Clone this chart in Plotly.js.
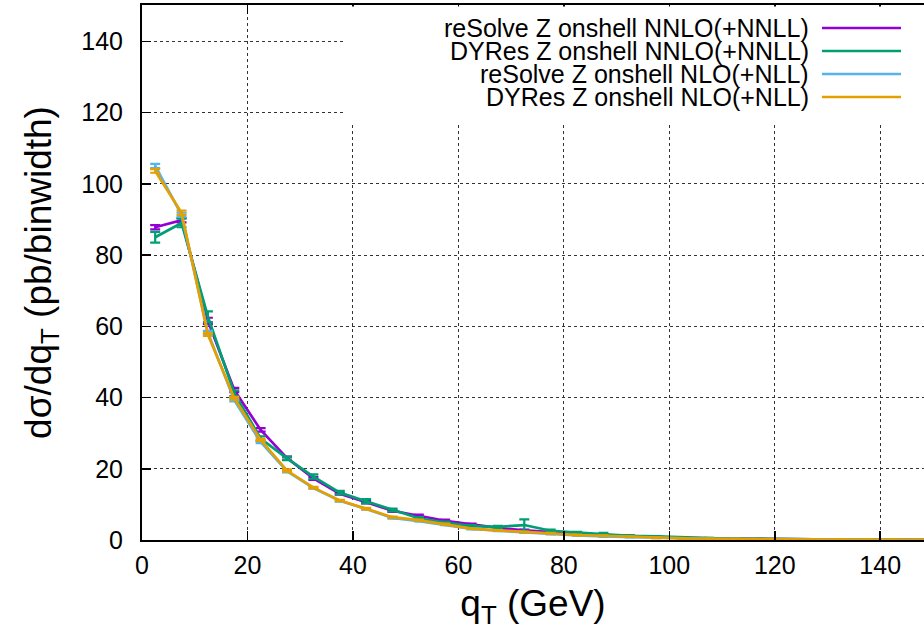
<!DOCTYPE html>
<html>
<head>
<meta charset="utf-8">
<script src="https://cdn.plot.ly/plotly-3.0.1.min.js"></script>
<style>html,body{margin:0;padding:0;background:#fff;}#chart{width:924px;height:630px;}</style>
</head>
<body>
<div id="chart"></div>
<script>
// bin centres (GeV)
const qT = [2.5,7.5,12.5,17.5,22.5,27.5,32.5,37.5,42.5,47.5,52.5,57.5,62.5,67.5,72.5,77.5,82.5,87.5,92.5,97.5,102.5,107.5,112.5,117.5,122.5,127.5,132.5,137.5,142.5,147.5];

const seriesNames = [
  "reSolve Z onshell NNLO(+NNLL)",
  "DYRes Z onshell NNLO(+NNLL)",
  "reSolve Z onshell NLO(+NLL)",
  "DYRes Z onshell NLO(+NLL)"
];

const resolveNNLO = [87.8,89.8,61.5,42.1,30.9,23.0,17.3,13.0,10.6,8.2,6.8,5.4,4.4,3.4,2.7,2.1,1.7,1.4,1.1,0.8,0.6,0.45,0.35,0.25,0.2,0.15,0.12,0.1,0.08,0.06];
const resolveNNLOerr = [0.6,0.6,0.9,0.6,0.5,0.4,0.4,0.3,0.3,0.3,0.3,0.3,0.2,0.2,0.2,0.2,0.1,0.1,0.1,0.1,0.1,0.1,0.05,0.05,0.05,0.05,0.05,0.05,0.05,0.05];

const dyresNNLO = [85.0,89.0,62.7,41.2,28.5,22.9,17.8,13.3,10.9,8.4,6.1,4.9,3.9,3.7,4.2,2.6,2.1,1.8,1.2,1.0,0.7,0.5,0.35,0.25,0.2,0.15,0.12,0.1,0.08,0.06];
const dyresNNLOerr = [1.5,1.2,1.5,0.8,0.6,0.5,0.6,0.5,0.6,0.4,0.3,0.3,0.3,0.3,1.6,0.3,0.2,0.2,0.2,0.1,0.1,0.1,0.1,0.05,0.05,0.05,0.05,0.05,0.05,0.05];

const resolveNLO = [105.0,91.3,58.2,39.3,27.5,19.3,14.6,11.0,8.7,6.2,5.3,4.3,3.1,2.6,2.1,1.7,1.3,1.0,0.8,0.6,0.4,0.3,0.25,0.2,0.15,0.1,0.08,0.07,0.05,0.04];
const resolveNLOerr = [0.6,0.6,0.5,0.4,0.3,0.3,0.2,0.2,0.2,0.2,0.1,0.1,0.1,0.1,0.1,0.1,0.1,0.1,0.05,0.05,0.05,0.05,0.05,0.05,0.05,0.05,0.05,0.05,0.05,0.05];

const dyresNLO = [103.6,91.9,57.7,39.8,28.1,19.5,14.7,11.1,8.8,6.4,5.6,4.5,3.2,2.7,2.2,1.9,1.4,1.2,0.9,0.6,0.45,0.35,0.25,0.2,0.15,0.12,0.1,0.08,0.06,0.05];
const dyresNLOerr = [0.5,0.6,0.4,0.4,0.3,0.3,0.2,0.2,0.2,0.2,0.1,0.1,0.1,0.1,0.1,0.1,0.1,0.1,0.05,0.05,0.05,0.05,0.05,0.05,0.05,0.05,0.05,0.05,0.05,0.05];

const colors = ["#9400d3","#009e73","#56b4e9","#e69f00"];
const yVals = [resolveNNLO, dyresNNLO, resolveNLO, dyresNLO];
const yErrs = [resolveNNLOerr, dyresNNLOerr, resolveNLOerr, dyresNLOerr];

const xTicks = [0,20,40,60,80,100,120,140];
const yTicks = [0,20,40,60,80,100,120,140];

const traces = yVals.map((y,i)=>({
  x: qT, y: y, name: seriesNames[i], type: "scatter", mode: "lines",
  line: {color: colors[i], width: 2.7},
  error_y: {type: "data", array: yErrs[i], visible: true, color: colors[i], thickness: 2.2, width: 5},
  showlegend: false
}));

const L = 142, T = 5, W = 924, H = 630, B = 90;
const pw = W - L, ph = H - T - B;
const px = v => (v - L) / pw;
const py = v => (H - B - v) / ph;

const shapes = [{
  type: "rect", xref: "paper", yref: "paper",
  x0: px(343), x1: px(924), y0: py(122), y1: py(T+1.5),
  fillcolor: "#ffffff", line: {width: 0}, layer: "above"
}];
const annotations = [];
const rowY = [28, 51, 74, 97];
seriesNames.forEach((n,i)=>{
  annotations.push({
    xref: "paper", yref: "paper", x: px(811), y: py(rowY[i]),
    xanchor: "right", yanchor: "middle", text: n, showarrow: false,
    font: {family: "Liberation Sans, Arial, sans-serif", size: 25, color: "#000"}
  });
  shapes.push({
    type: "line", xref: "paper", yref: "paper",
    x0: px(822), x1: px(901), y0: py(rowY[i]), y1: py(rowY[i]),
    line: {color: colors[i], width: 2.7}, layer: "above"
  });
});

const font = {family: "Liberation Sans, Arial, sans-serif", size: 25, color: "#000"};

const layout = {
  width: W, height: H,
  margin: {l: L, r: 0, t: T, b: B, pad: 0},
  paper_bgcolor: "#fff", plot_bgcolor: "#fff",
  font: font,
  showlegend: false,
  xaxis: {
    range: [0, 148.3], tickvals: xTicks, ticktext: xTicks.map(String),
    ticks: "inside", ticklen: 9, tickwidth: 1.5, tickcolor: "#000",
    showline: true, linecolor: "#000", linewidth: 2, mirror: "ticks",
    showgrid: true, gridcolor: "#333", griddash: "dot", gridwidth: 1,
    zeroline: false, tickfont: {size: 25}, ticklabelstandoff: 2,
    title: {text: "q<sub>T</sub> (GeV)", font: {size: 37}, standoff: 12}
  },
  yaxis: {
    range: [0, 150.2], tickvals: yTicks, ticktext: yTicks.map(String),
    ticks: "inside", ticklen: 9, tickwidth: 1.5, tickcolor: "#000",
    showline: true, linecolor: "#000", linewidth: 2,
    showgrid: true, gridcolor: "#333", griddash: "dot", gridwidth: 1,
    zeroline: false, tickfont: {size: 25}, ticklabelstandoff: 12,
    title: {text: "dσ/dq<sub>T</sub> (pb/binwidth)", font: {size: 37}, standoff: 18}
  },
  shapes: shapes,
  annotations: annotations
};

Plotly.newPlot("chart", traces, layout, {displayModeBar: false, staticPlot: true});
</script>
</body>
</html>
